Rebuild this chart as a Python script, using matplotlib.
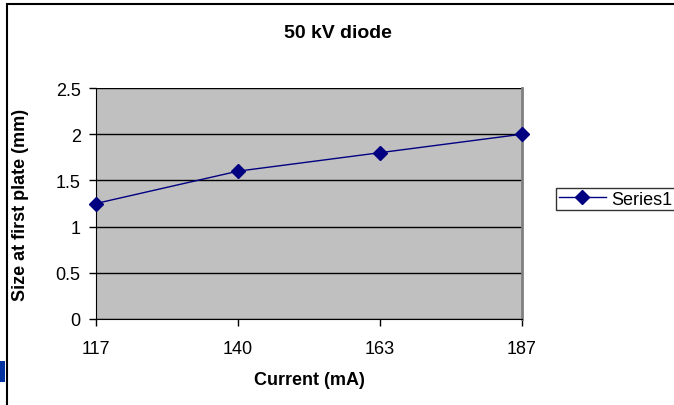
import matplotlib
matplotlib.use("Agg")
import matplotlib.pyplot as plt
from matplotlib.patches import Rectangle

plt.rcParams["font.family"] = ["Liberation Sans", "DejaVu Sans"]

currents = ["117", "140", "163", "187"]
sizes = [1.25, 1.6, 1.8, 2.0]
y_ticks = [0, 0.5, 1, 1.5, 2, 2.5]
y_tick_labels = ["0", "0.5", "1", "1.5", "2", "2.5"]

W, H = 674, 406
fig = plt.figure(figsize=(W / 100, H / 100), dpi=100)

# chart frame
fig.patches.append(Rectangle((6.5 / W, -0.1), 1.2, (H - 4.5) / H + 0.1,
                             transform=fig.transFigure, fill=False,
                             edgecolor="black", linewidth=1.5, zorder=0))
fig.patches.append(Rectangle((0, (H - 383) / H), 5 / W, 21 / H,
                             transform=fig.transFigure, facecolor="#0033a0",
                             edgecolor="none", zorder=1))

left, right, top, bottom = 96, 522, 89, 320
ax = fig.add_axes([left / W, (H - bottom) / H, (right - left) / W, (bottom - top) / H])
ax.set_facecolor("#c0c0c0")

x = list(range(len(currents)))
line, = ax.plot(x, sizes, color="#000080", linewidth=1.0, marker="D",
                markersize=7, markerfacecolor="#000080", markeredgecolor="#000080",
                label="Series1", clip_on=False, zorder=3)

ax.set_xlim(0, len(currents) - 1)
ax.set_ylim(0, 2.5)
ax.set_xticks(x)
ax.set_xticklabels(currents)
ax.set_yticks(y_ticks)
ax.set_yticklabels(y_tick_labels)
ax.yaxis.grid(True, color="black", linewidth=1.0)
ax.set_axisbelow(True)

ax.spines["top"].set_visible(False)
ax.spines["right"].set_color("#808080")
ax.spines["right"].set_linewidth(2)
ax.spines["left"].set_color("black")
ax.spines["bottom"].set_color("black")

ax.tick_params(axis="both", labelsize=13, color="black", length=5, width=1,
               direction="out")
ax.tick_params(axis="y", pad=6)
ax.tick_params(axis="x", pad=10)

fig.text(338 / W, (H - 33) / H, "50 kV diode", ha="center", va="center",
         fontsize=14, fontweight="bold")
fig.text(309 / W, (H - 381) / H, "Current (mA)", ha="center", va="center",
         fontsize=13, fontweight="bold")
fig.text(21 / W, (H - 205) / H, "Size at first plate (mm)", ha="center",
         va="center", rotation=90, fontsize=13, fontweight="bold")

leg = fig.legend(handles=[line], loc="upper left",
                 bbox_to_anchor=(556 / W, (H - 189) / H), frameon=True,
                 fancybox=False, edgecolor="black", fontsize=13,
                 handlelength=2.6, borderpad=0.15, handletextpad=0.3,
                 borderaxespad=0)
leg.get_frame().set_linewidth(1.0)

fig.savefig("out.png", dpi=100)
